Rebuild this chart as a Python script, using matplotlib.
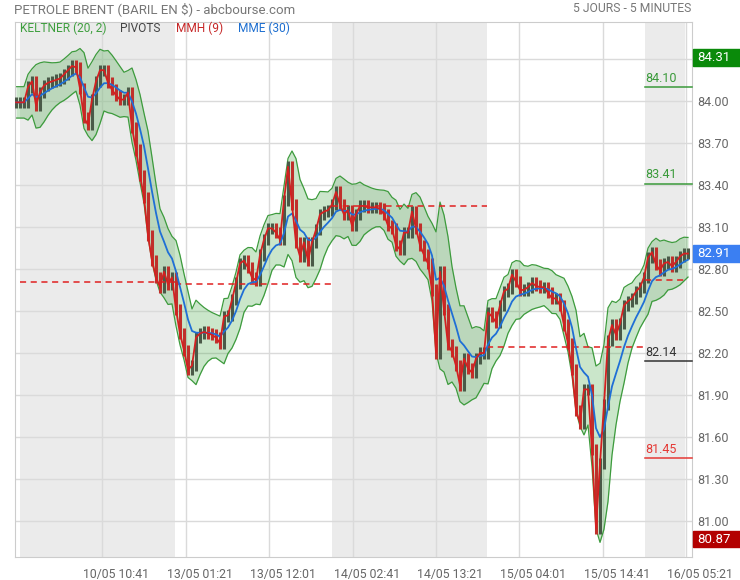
import numpy as np
import pandas as pd
import matplotlib
matplotlib.use("Agg")
import matplotlib.pyplot as plt
from matplotlib.transforms import blended_transform_factory, ScaledTranslation
from matplotlib.patches import Rectangle

# closes, one sample every ~30 minutes
close = [83.99, 83.99, 83.99, 84.10, 84.14, 83.97, 84.06, 84.11, 84.13, 84.14,
         84.15, 84.16, 84.19, 84.22, 84.25, 84.24, 84.09, 83.88, 83.83, 84.01,
         84.14, 84.22, 84.22, 84.13, 84.08, 84.04, 84.01, 84.01, 84.06, 83.81,
         83.65, 83.47, 83.31, 83.04, 82.86, 82.74, 82.67, 82.78, 82.69, 82.74,
         82.51, 82.34, 82.22, 82.08, 82.11, 82.31, 82.34, 82.35, 82.34, 82.33,
         82.31, 82.27, 82.46, 82.47, 82.58, 82.70, 82.84, 82.86, 82.81, 82.74,
         82.72, 82.90, 83.01, 83.09, 83.09, 83.06, 83.01, 83.29, 83.53, 83.26,
         82.99, 82.89, 82.99, 82.86, 82.99, 83.08, 83.19, 83.21, 83.22, 83.26,
         83.35, 83.26, 83.19, 83.22, 83.11, 83.19, 83.25, 83.25, 83.24, 83.24,
         83.24, 83.23, 83.19, 83.11, 83.09, 82.97, 82.94, 83.06, 83.06, 83.21,
         83.09, 82.97, 82.90, 82.84, 82.65, 82.20, 82.78, 82.51, 82.26, 82.21,
         82.11, 81.97, 82.16, 82.09, 82.06, 82.16, 82.20, 82.20, 82.49, 82.46,
         82.42, 82.54, 82.64, 82.66, 82.76, 82.71, 82.65, 82.65, 82.67, 82.70,
         82.68, 82.67, 82.67, 82.63, 82.59, 82.59, 82.54, 82.40, 82.27, 82.08,
         81.79, 81.70, 81.94, 81.94, 81.51, 80.95, 81.41, 81.83, 82.29, 82.40,
         82.33, 82.41, 82.54, 82.57, 82.59, 82.64, 82.67, 82.74, 82.88, 82.92,
         82.83, 82.79, 82.84, 82.85, 82.82, 82.85, 82.89, 82.91, 82.91]

tick_pos = [21.5, 42.5, 63.25, 84.25, 105, 125.75, 146.75, 167.5]
tick_labels = ["10/05 10:41", "13/05 01:21", "13/05 12:01", "14/05 02:41",
               "14/05 13:21", "15/05 04:01", "15/05 14:41", "16/05 05:21"]

day_start = [1, 39.75, 79, 117.75, 157.25]
day_end = [39.75, 79, 117.75, 157.25, 167.25]
day_pivot = [82.71, 82.69, 83.25, 82.24, 82.72]

levels = [84.10, 83.41, 82.14, 81.45]
level_colors = ["#3a9a3a", "#3a9a3a", "#333333", "#e53935"]

price_high = 84.31
price_last = 82.91
price_low = 80.87

plt.rcParams["font.family"] = ["Roboto", "DejaVu Sans"]

c = pd.Series(close)
x = np.arange(len(c))
o = c.shift(1).fillna(c[0])
wick = 0.04
hi = np.maximum(o, c) + wick
lo = np.minimum(o, c) - wick

# indicators
mid = c.ewm(span=5, adjust=False).mean()
atr = (hi - lo).ewm(span=5, adjust=False).mean()
upper = mid + 2 * 0.7 * atr
lower = mid - 2 * 0.7 * atr
mme = c.ewm(span=7, adjust=False).mean()

fig = plt.figure(figsize=(7.4, 5.8), dpi=100)
ax = fig.add_axes([15 / 740, 1 - 557 / 580, 677 / 740, 535 / 580])
ax.set_xlim(-0.25, 169)
ax.set_ylim(80.743, 84.564)
ax.set_axisbelow(True)

for i in range(0, len(day_start), 2):
    ax.axvspan(day_start[i], day_end[i], color="#ebebeb", lw=0, zorder=0)

ax.fill_between(x, lower, upper, color="#3da33d", alpha=0.27, lw=0, zorder=1)
ax.plot(x, upper, color="#3d9b3d", lw=0.9, zorder=2)
ax.plot(x, lower, color="#3d9b3d", lw=0.9, zorder=2)

up = c >= o
ax.vlines(x[up], lo[up], hi[up], color="#4a5a48", lw=2.2, zorder=3)
ax.vlines(x[~up], lo[~up], hi[~up], color="#c0302b", lw=2.2, zorder=3)

for s, e, p in zip(day_start, day_end, day_pivot):
    ax.plot([s, e], [p, p], color="#e02020", lw=1.1, dashes=(4, 3), zorder=4)

ax.plot(x, mme, color="#1f6fd6", lw=1.3, zorder=5)
ax.plot(x, c, color="#d42020", lw=1.3, zorder=6)

for lv, col in zip(levels, level_colors):
    ax.plot([day_start[-1], 169], [lv, lv], color=col, lw=1.1, zorder=4, clip_on=False)
    ax.text(day_start[-1], lv + 0.015, f"{lv:.2f}", color=col, fontsize=9,
            ha="left", va="bottom", zorder=7)

# axes styling
yt = np.arange(81.0, 84.31, 0.3)
ax.set_yticks(yt)
ax.set_yticklabels([f"{v:.2f}" if v < 84.2 else "" for v in yt])
ax.yaxis.tick_right()
ax.set_xticks(tick_pos)
ax.set_xticklabels(tick_labels)
ax.tick_params(axis="both", length=0, labelcolor="#666666", labelsize=9)
ax.tick_params(axis="x", labelsize=8.8, pad=8)
ax.tick_params(axis="y", pad=4)
for lab in ax.get_xticklabels():
    lab.set_transform(lab.get_transform() + ScaledTranslation(0.14, 0, fig.dpi_scale_trans))
ax.grid(color="#dadada", lw=1)
for sp in ax.spines.values():
    sp.set_color("#cccccc")

# price boxes on the right axis
tr = blended_transform_factory(fig.transFigure, ax.transData)
for val, col in [(price_high, "#0a8a0a"), (price_last, "#3b7ff2"), (price_low, "#b30000")]:
    ax.add_patch(Rectangle((693 / 740, val - 0.058), 47 / 740, 0.116, transform=tr,
                           color=col, clip_on=False, zorder=10))
    ax.text(697 / 740, val, f"{val:.2f}", transform=tr, color="white", fontsize=9.5,
            ha="left", va="center", zorder=11)

fig.text(14 / 740, 1 - 9 / 580, "PETROLE BRENT (BARIL EN \\$) - abcbourse.com",
         color="#777777", fontsize=9.5, va="center")
fig.text(691 / 740, 1 - 9 / 580, "5 JOURS - 5 MINUTES", color="#777777",
         fontsize=8.7, va="center", ha="right")
for px, txt, col in [(20, "KELTNER (20, 2)", "#3f9f3f"), (120, "PIVOTS", "#444444"),
                     (176, "MMH (9)", "#c62828"), (238, "MME (30)", "#1e6fd0")]:
    fig.text(px / 740, 1 - 28 / 580, txt, color=col, fontsize=8.6, va="center")

fig.savefig("out.png", dpi=100)
